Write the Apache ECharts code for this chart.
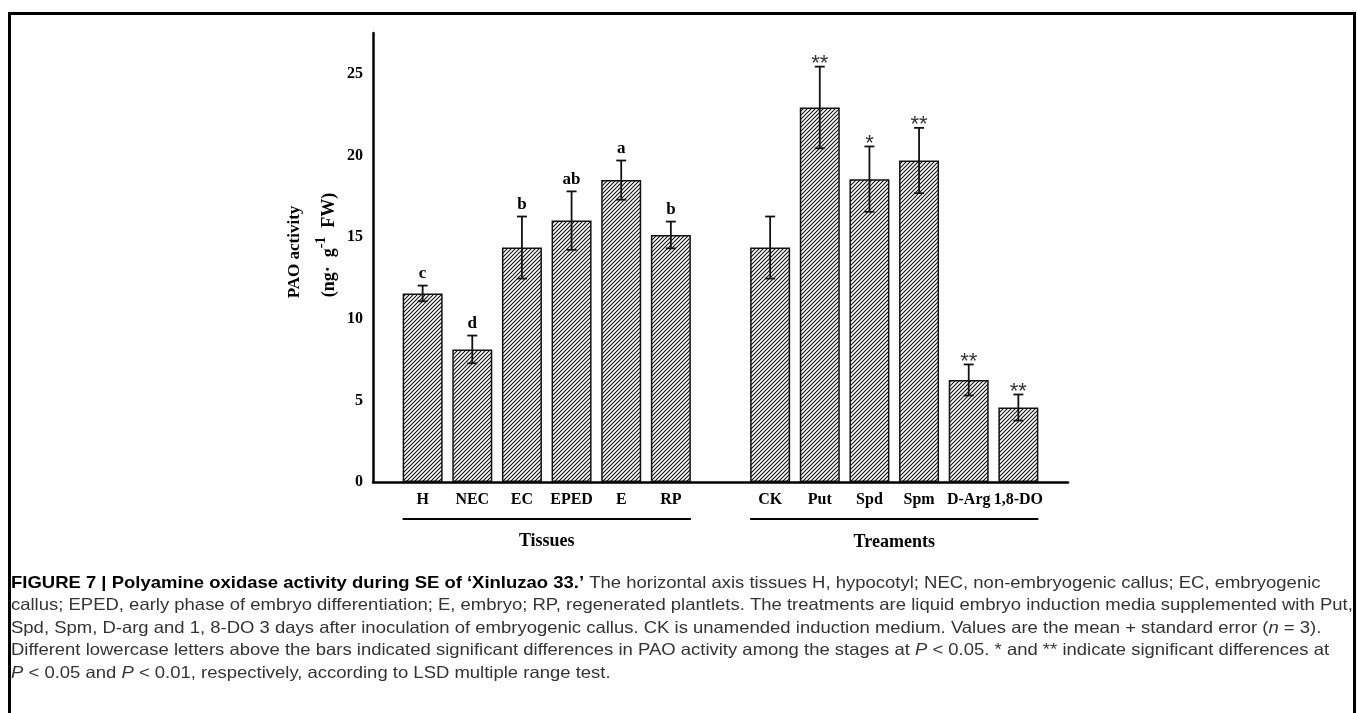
<!DOCTYPE html>
<html>
<head>
<meta charset="utf-8">
<script src="https://cdn.jsdelivr.net/npm/echarts@6/dist/echarts.min.js"></script>
<style>
  html, body { margin: 0; padding: 0; background: #fff; }
  #chart { width: 1357px; height: 713px; }
</style>
</head>
<body>
<div id="chart"></div>
<script>
// empty slots keep the gap before, between and after the two groups
const categories = ["", "H", "NEC", "EC", "EPED", "E", "RP", "", "CK", "Put", "Spd", "Spm", "D-Arg", "1,8-DO", ""];
const paoValues = [null, 11.55, 8.12, 14.36, 16.01, 18.49, 15.13, null, 14.36, 22.94, 18.55, 19.69, 6.25, 4.56, null];
const paoErrors = [null, 0.48, 0.85, 1.9, 1.79, 1.2, 0.82, null, 1.9, 2.5, 2.0, 2.0, 0.95, 0.8, null];
const sigMarks = ["", "c", "d", "b", "ab", "a", "b", "", "", "**", "*", "**", "**", "**", ""];
const groupNames = ["Tissues", "Treaments"];
const groupRanges = [[1, 6], [8, 13]];
const yTickLabels = [0, 5, 10, 15, 20, 25];

const captionLines = [
  [["b", "FIGURE 7 | Polyamine oxidase activity during SE of \u2018Xinluzao 33.\u2019"], ["n", " The horizontal axis tissues H, hypocotyl; NEC, non-embryogenic callus; EC, embryogenic"]],
  [["n", "callus; EPED, early phase of embryo differentiation; E, embryo; RP, regenerated plantlets. The treatments are liquid embryo induction media supplemented with Put,"]],
  [["n", "Spd, Spm, D-arg and 1, 8-DO 3 days after inoculation of embryogenic callus. CK is unamended induction medium. Values are the mean + standard error ("], ["i", "n"], ["n", " = 3)."]],
  [["n", "Different lowercase letters above the bars indicated significant differences in PAO activity among the stages at "], ["i", "P"], ["n", " < 0.05. * and ** indicate significant differences at"]],
  [["i", "P"], ["n", " < 0.05 and "], ["i", "P"], ["n", " < 0.01, respectively, according to LSD multiple range test."]]
];

const serif = '"Liberation Serif", "Times New Roman", serif';
const sans = '"Liberation Sans", Arial, sans-serif';

function makeHatch() {
  const c = document.createElement("canvas");
  c.width = 4;
  c.height = 4;
  const ctx = c.getContext("2d");
  ctx.fillStyle = "#fff";
  ctx.fillRect(0, 0, 4, 4);
  ctx.strokeStyle = "#111";
  ctx.lineWidth = 1.1;
  ctx.beginPath();
  ctx.moveTo(-1, 5); ctx.lineTo(5, -1);
  ctx.moveTo(-1, 1); ctx.lineTo(1, -1);
  ctx.moveTo(3, 5); ctx.lineTo(5, 3);
  ctx.stroke();
  return c;
}

const errData = [];
paoValues.forEach((v, i) => {
  if (v != null) errData.push([i, v - paoErrors[i], v + paoErrors[i], i]);
});

var chartDom = document.getElementById("chart");
var chart = echarts.init(chartDom);

let option = {
  animation: false,
  backgroundColor: "#fff",
  grid: { left: 373, right: 289, top: 33, bottom: 231 },
  xAxis: {
    type: "category",
    data: categories,
    boundaryGap: false,
    axisLine: { lineStyle: { color: "#000", width: 2.5 } },
    axisTick: { show: false },
    axisLabel: {
      interval: 0,
      margin: 10,
      color: "#000",
      fontFamily: serif,
      fontWeight: "bold",
      fontSize: 16,
    },
  },
  yAxis: {
    type: "value",
    min: 0,
    max: 27.5,
    interval: 2.5,
    splitLine: { show: false },
    axisLine: { show: true, lineStyle: { color: "#000", width: 2.5 } },
    axisTick: { inside: true, length: 7, lineStyle: { width: 2, color: "#000" } },
    axisLabel: {
      margin: 10,
      color: "#000",
      fontFamily: serif,
      fontWeight: "bold",
      fontSize: 16,
      formatter: (v) => (yTickLabels.includes(v) ? String(v) : ""),
    },
  },
  series: [
    {
      name: "PAO activity",
      type: "bar",
      barWidth: 40,
      data: paoValues,
      itemStyle: {
        color: { image: makeHatch(), repeat: "repeat" },
        borderColor: "#111",
        borderWidth: 1.5,
      },
    },
    {
      name: "error",
      type: "custom",
      data: errData,
      z: 5,
      renderItem: function (params, api) {
        const idx = api.value(3);
        const top = api.coord([api.value(0), api.value(2)]);
        const bot = api.coord([api.value(0), api.value(1)]);
        const half = 5;
        const mark = sigMarks[idx];
        const isStar = mark.indexOf("*") >= 0;
        const st = { stroke: "#111", lineWidth: 1.8 };
        return {
          type: "group",
          children: [
            { type: "line", shape: { x1: top[0], y1: top[1], x2: bot[0], y2: bot[1] }, style: st },
            { type: "line", shape: { x1: top[0] - half, y1: top[1], x2: top[0] + half, y2: top[1] }, style: st },
            { type: "line", shape: { x1: bot[0] - half, y1: bot[1], x2: bot[0] + half, y2: bot[1] }, style: st },
            {
              type: "text",
              style: {
                text: mark,
                x: top[0],
                y: isStar ? top[1] - 3 : top[1] - 3,
                align: "center",
                verticalAlign: isStar ? "middle" : "bottom",
                fill: isStar ? "#333" : "#000",
                font: isStar ? "22px " + sans : "bold 17px " + serif,
              },
            },
          ],
        };
      },
    },
  ],
};

option && chart.setOption(option);

// group brackets and names under the axis labels
const extra = [];
groupRanges.forEach((r, k) => {
  const x1 = chart.convertToPixel({ xAxisIndex: 0 }, r[0]) - 20;
  const x2 = chart.convertToPixel({ xAxisIndex: 0 }, r[1]) + 20;
  extra.push({ type: "line", shape: { x1: x1, y1: 519, x2: x2, y2: 519 }, style: { stroke: "#000", lineWidth: 2 } });
  extra.push({
    type: "text",
    style: { text: groupNames[k], x: (x1 + x2) / 2, y: 541 + k, align: "center", verticalAlign: "middle", font: "bold 18px " + serif, fill: "#000" },
  });
});

// y axis title, two rotated lines
extra.push({
  type: "text",
  rotation: Math.PI / 2,
  x: 295,
  y: 252,
  style: { text: "PAO activity", align: "center", verticalAlign: "middle", font: "bold 17px " + serif, fill: "#000" },
});
extra.push({
  type: "text",
  rotation: Math.PI / 2,
  x: 329,
  y: 245,
  style: {
    text: "(ng\u00b7  g{sup|-1}  FW)",
    align: "center",
    verticalAlign: "middle",
    font: "bold 18px " + serif,
    fill: "#000",
    rich: { sup: { font: "bold 14px " + serif, verticalAlign: "top", lineHeight: 30, padding: [0, 0, 16, 0] } },
  },
});

// figure frame
extra.push({ type: "polyline", shape: { points: [[9.5, 713], [9.5, 13.5], [1354.5, 13.5], [1354.5, 713]] }, style: { stroke: "#000", lineWidth: 3, fill: null } });

// caption
const fontsFor = { b: "bold 16.5px " + sans, n: "16.5px " + sans, i: "italic 16.5px " + sans };
captionLines.forEach((line, li) => {
  const text = line.map(([s, t]) => "{" + s + "|" + t.replace(/[{}]/g, "") + "}").join("");
  extra.push({
    type: "text",
    x: 11,
    y: 583 + li * 22.6,
    scaleX: 1.12,
    style: {
      text: text,
      verticalAlign: "middle",
      rich: {
        b: { font: fontsFor.b, fill: "#000" },
        n: { font: fontsFor.n, fill: "#333" },
        i: { font: fontsFor.i, fill: "#333" },
      },
    },
  });
});

chart.setOption({ graphic: extra });
</script>
</body>
</html>
